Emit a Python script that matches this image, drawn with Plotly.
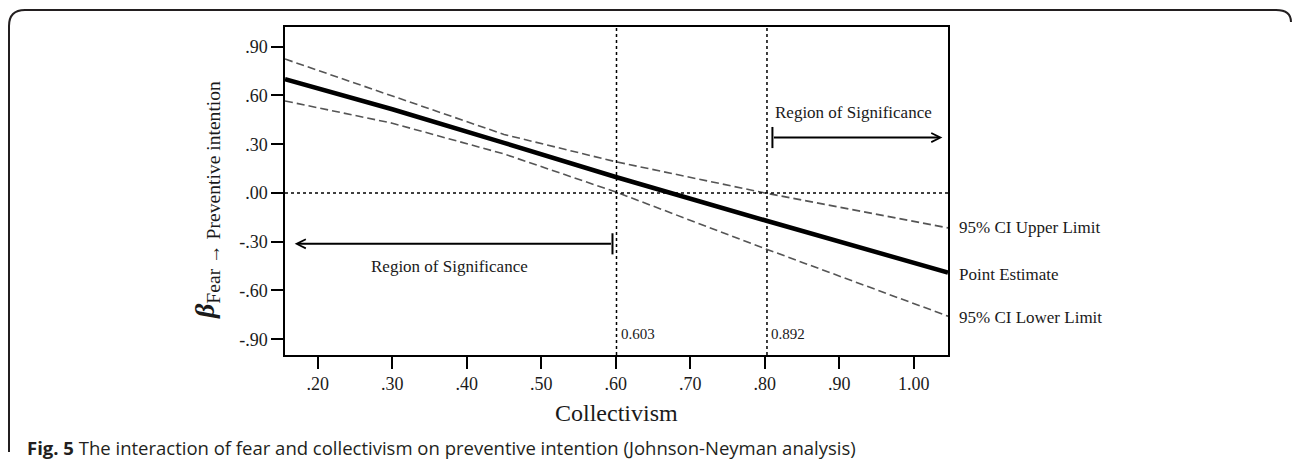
import plotly.graph_objects as go

# ---- data ----
collectivism = [0.156, 0.30, 0.45, 0.60, 0.80, 1.046]
point_estimate = [0.700, 0.515, 0.308, 0.098, -0.168, -0.490]
ci_upper = [0.824, 0.597, 0.360, 0.192, 0.000, -0.215]
ci_lower = [0.566, 0.429, 0.240, 0.006, -0.342, -0.758]

jn_line_x = [0.601, 0.803]
jn_labels = ["0.603", "0.892"]

x_ticks = [0.2, 0.3, 0.4, 0.5, 0.6, 0.7, 0.8, 0.9, 1.0]
x_tick_labels = [".20", ".30", ".40", ".50", ".60", ".70", ".80", ".90", "1.00"]
y_ticks = [0.9, 0.6, 0.3, 0.0, -0.3, -0.6, -0.9]
y_tick_labels = [".90", ".60", ".30", ".00", "-.30", "-.60", "-.90"]

series_labels = ["95% CI Upper Limit", "Point Estimate", "95% CI Lower Limit"]

# ---- layout geometry ----
W, H = 1292, 463
L, R, T, B = 285, 948, 27, 355
X_RANGE = [0.156, 1.046]
Y_RANGE = [-0.997, 1.021]

def px(xp):
    return (xp - L) / (R - L)

def py(yp):
    return (B - yp) / (B - T)

SERIF = "Liberation Serif, Times New Roman, serif"
INK = "#1a1a1a"

fig = go.Figure()

fig.add_trace(go.Scatter(x=collectivism, y=ci_upper, mode="lines",
                         line=dict(color="#555555", width=1.6, dash="8px,4px"),
                         showlegend=False, hoverinfo="skip"))
fig.add_trace(go.Scatter(x=collectivism, y=ci_lower, mode="lines",
                         line=dict(color="#555555", width=1.6, dash="8px,4px"),
                         showlegend=False, hoverinfo="skip"))
fig.add_trace(go.Scatter(x=collectivism, y=point_estimate, mode="lines",
                         line=dict(color="#000000", width=4.5),
                         showlegend=False, hoverinfo="skip"))

shapes = []
# zero reference line
shapes.append(dict(type="line", xref="paper", yref="y", x0=0, x1=1, y0=0, y1=0,
                   line=dict(color="#000", width=1.5, dash="dot")))
# Johnson-Neyman boundaries
for xv in jn_line_x:
    shapes.append(dict(type="line", xref="x", yref="paper", x0=xv, x1=xv, y0=0, y1=1,
                       line=dict(color="#000", width=1.5, dash="dot")))

# region-of-significance arrows: (tail x, head x, y)
arrows = [(0.5956, 0.169, -0.313), (0.8103, 1.0385, 0.341)]
annotations = []
for tail, head, yv in arrows:
    annotations.append(dict(x=head, y=yv, ax=tail, ay=yv, xref="x", yref="y",
                            axref="x", ayref="y", text="", showarrow=True,
                            arrowhead=5, arrowsize=0.9, arrowwidth=2,
                            arrowcolor="#000", standoff=0, startstandoff=0))
    shapes.append(dict(type="line", xref="x", yref="y", x0=tail, x1=tail,
                       y0=yv - 0.065, y1=yv + 0.065, line=dict(color="#000", width=2)))

annotations.append(dict(x=0.377, y=-0.455, xref="x", yref="y", text="Region of Significance",
                        showarrow=False, xanchor="center", yanchor="middle",
                        font=dict(family=SERIF, size=17, color=INK)))
annotations.append(dict(x=0.8115, y=0.494, xref="x", yref="y", text="Region of Significance",
                        showarrow=False, xanchor="left", yanchor="middle",
                        font=dict(family=SERIF, size=17, color=INK)))

for xv, lab in zip(jn_line_x, jn_labels):
    annotations.append(dict(x=xv, y=-0.87, xref="x", yref="y", text=lab, showarrow=False,
                            xanchor="left", yanchor="middle", xshift=2,
                            font=dict(family=SERIF, size=15, color=INK)))

# right-hand series labels, placed at each series' last value
for lab, series, dy in zip(series_labels, [ci_upper, point_estimate, ci_lower], [0, -2, -1]):
    annotations.append(dict(x=1, y=series[-1], xref="paper", yref="y", text=lab,
                            showarrow=False, xanchor="left", yanchor="middle",
                            xshift=9, yshift=dy,
                            font=dict(family=SERIF, size=17, color=INK)))

# axis titles
annotations.append(dict(x=0.5, y=py(413), xref="paper", yref="paper", text="Collectivism",
                        showarrow=False, xanchor="center", yanchor="middle",
                        font=dict(family=SERIF, size=24, color=INK)))
annotations.append(dict(x=px(206), y=py(200), xref="paper", yref="paper",
                        text="<b><i>β</i></b><sub>Fear → Preventive intention</sub>",
                        textangle=-90, showarrow=False, xanchor="center", yanchor="middle",
                        font=dict(family=SERIF, size=28, color=INK)))

# caption
annotations.append(dict(x=px(25), y=py(447), xref="paper", yref="paper",
                        text="<b>Fig. 5</b> The interaction of fear and collectivism on preventive intention (Johnson-Neyman analysis)",
                        showarrow=False, xanchor="left", yanchor="middle",
                        font=dict(family="Open Sans, sans-serif", size=18.5, color="#231f20")))

# outer rounded frame (open at the bottom, cut at the right edge)
path = (f"M {px(9)},{py(452)} L {px(9)},{py(26)} Q {px(9)},{py(10)} {px(25)},{py(10)} "
        f"L {px(1276)},{py(10)} Q {px(1291)},{py(10)} {px(1291)},{py(22)}")
shapes.append(dict(type="path", xref="paper", yref="paper", path=path,
                   line=dict(color="#231f20", width=2)))

fig.update_layout(
    width=W, height=H,
    margin=dict(l=L, r=W - R, t=T, b=H - B, pad=0),
    paper_bgcolor="white", plot_bgcolor="white",
    shapes=shapes, annotations=annotations,
    showlegend=False,
    xaxis=dict(range=X_RANGE, tickvals=x_ticks, ticktext=x_tick_labels,
               showgrid=False, zeroline=False, showline=True, mirror=True,
               linecolor="#000", linewidth=1.5, ticks="outside", ticklen=12,
               tickwidth=1.5, tickcolor="#000",
               tickfont=dict(family=SERIF, size=18, color=INK)),
    yaxis=dict(range=Y_RANGE, tickvals=y_ticks, ticktext=y_tick_labels,
               showgrid=False, zeroline=False, showline=True, mirror=True,
               linecolor="#000", linewidth=1.5, ticks="outside", ticklen=12,
               tickwidth=1.5, tickcolor="#000",
               tickfont=dict(family=SERIF, size=18, color=INK)),
)

fig.write_html("out.html")
